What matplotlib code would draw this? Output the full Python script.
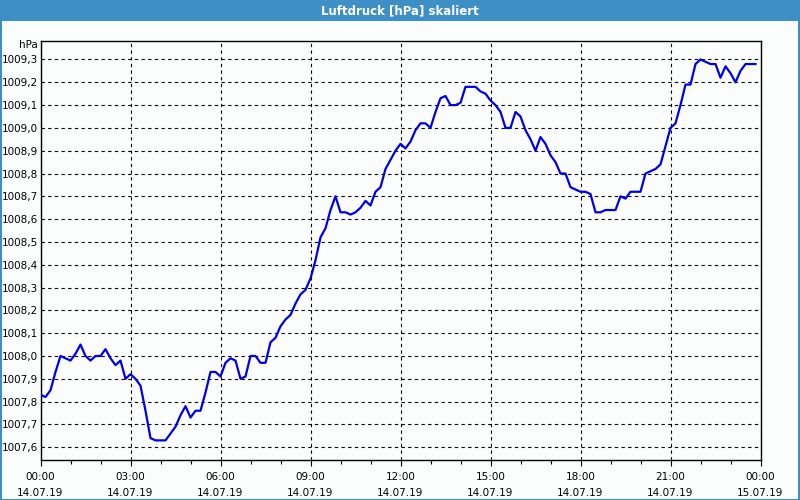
import matplotlib
matplotlib.use("Agg")
import matplotlib.pyplot as plt
from matplotlib.patches import Rectangle
from matplotlib.ticker import FuncFormatter, MultipleLocator
import numpy as np

# --- data (10-minute samples from 14.07.19 00:00) ---
pressure = [
    1007.83, 1007.82, 1007.85, 1007.93, 1008.00, 1007.99, 1007.98, 1008.01, 1008.05, 1008.00,
    1007.98, 1008.00, 1008.00, 1008.03, 1007.99, 1007.96, 1007.98, 1007.90, 1007.92, 1007.90,
    1007.87, 1007.76, 1007.64, 1007.63, 1007.63, 1007.63, 1007.66, 1007.69, 1007.74, 1007.78,
    1007.73, 1007.76, 1007.76, 1007.84, 1007.93, 1007.93, 1007.91, 1007.97, 1007.99, 1007.98,
    1007.90, 1007.91, 1008.00, 1008.00, 1007.97, 1007.97, 1008.06, 1008.08, 1008.13, 1008.16,
    1008.18, 1008.23, 1008.27, 1008.29, 1008.34, 1008.42, 1008.52, 1008.56, 1008.64, 1008.70,
    1008.63, 1008.63, 1008.62, 1008.63, 1008.65, 1008.68, 1008.66, 1008.72, 1008.74, 1008.82,
    1008.86, 1008.90, 1008.93, 1008.91, 1008.94, 1008.99, 1009.02, 1009.02, 1009.00, 1009.07,
    1009.13, 1009.14, 1009.10, 1009.10, 1009.11, 1009.18, 1009.18, 1009.18, 1009.16, 1009.15,
    1009.12, 1009.10, 1009.07, 1009.00, 1009.00, 1009.07, 1009.05, 1008.99, 1008.95, 1008.90,
    1008.96, 1008.93, 1008.88, 1008.85, 1008.80, 1008.80, 1008.74, 1008.73, 1008.72, 1008.72,
    1008.71, 1008.63, 1008.63, 1008.64, 1008.64, 1008.64, 1008.70, 1008.69, 1008.72, 1008.72,
    1008.72, 1008.80, 1008.81, 1008.82, 1008.84, 1008.92, 1009.00, 1009.02, 1009.10, 1009.19,
    1009.19, 1009.28, 1009.30, 1009.29, 1009.28, 1009.28, 1009.22, 1009.27, 1009.24, 1009.20,
    1009.25, 1009.28, 1009.28, 1009.28,
]
sample_minutes = 10
hours = np.arange(len(pressure)) * sample_minutes / 60.0

tick_hours = [0, 3, 6, 9, 12, 15, 18, 21, 24]
tick_labels = ["00:00\n14.07.19", "03:00\n14.07.19", "06:00\n14.07.19", "09:00\n14.07.19",
               "12:00\n14.07.19", "15:00\n14.07.19", "18:00\n14.07.19", "21:00\n14.07.19",
               "00:00\n15.07.19"]
title = "Luftdruck [hPa] skaliert"
unit = "hPa"

# --- figure ---
W, H = 800, 500
fig = plt.figure(figsize=(W / 100, H / 100), dpi=100)
bg = "#fbfdfd"
fig.patch.set_facecolor(bg)

# title bar and border
fig.patches.append(Rectangle((0, 1 - 21 / H), 1, 21 / H, transform=fig.transFigure,
                             facecolor="#3d8fc6", edgecolor="none", zorder=0))
fig.patches.append(Rectangle((0.5 / W, 0.5 / H), 1 - 1.5 / W, 1 - 1.5 / H, transform=fig.transFigure,
                             facecolor="none", edgecolor="#3d8fc6", linewidth=1.5, zorder=5))
fig.text(0.5, 1 - 10.5 / H, title, ha="center", va="center", color="white",
         fontsize=8.5, fontweight="bold", family="DejaVu Sans")

left, right, top, bottom = 40.5, 760.5, 41, 460
ax = fig.add_axes([left / W, 1 - bottom / H, (right - left) / W, (bottom - top) / H])
ax.set_facecolor(bg)

ax.plot(hours, pressure, color="#0000e6", linewidth=1.6, zorder=3)

ax.set_xlim(0, 24)
ax.set_ylim(1007.544, 1009.381)

ax.set_xticks(tick_hours)
ax.set_xticklabels(tick_labels, fontsize=7.5, linespacing=1.75)
ax.xaxis.set_minor_locator(MultipleLocator(1))
ax.tick_params(axis="x", which="major", length=4, width=0.8, pad=5, color="black")
ax.tick_params(axis="x", which="minor", length=3, width=0.8, color="black")

ax.yaxis.set_major_locator(MultipleLocator(0.1))
ax.yaxis.set_major_formatter(FuncFormatter(lambda v, p: f"{v:.1f}".replace(".", ",")))
ax.tick_params(axis="y", length=0, pad=2, labelsize=7.5)

ax.grid(True, which="major", color="black", linestyle=(0, (3, 3)), linewidth=0.8)
for s in ax.spines.values():
    s.set_color("black")
    s.set_linewidth(1)

fig.text(38 / W, 1 - 45.5 / H, unit, ha="right", va="center", fontsize=7.5)

fig.savefig("out.png", dpi=100, facecolor=fig.get_facecolor())
